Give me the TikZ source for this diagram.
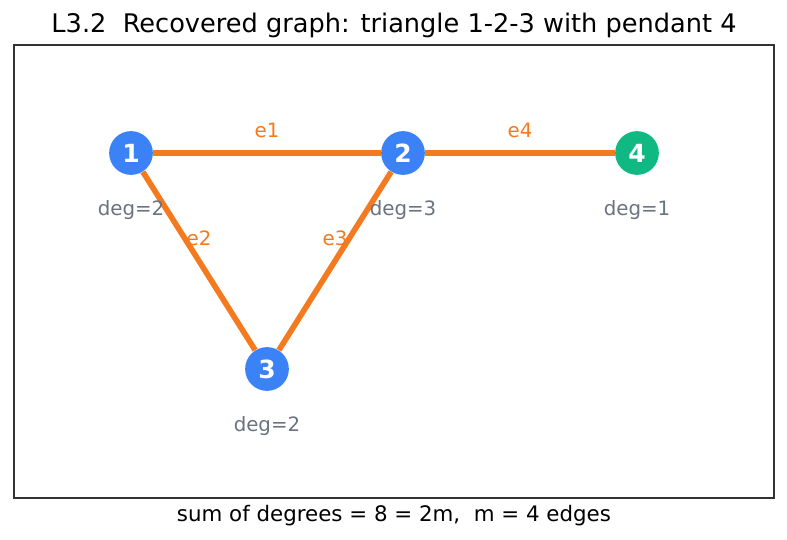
\documentclass[tikz,border=0pt]{standalone}
\usepackage{fontspec}
\setmainfont{DejaVu Sans}
\usepackage{tikz}
\usetikzlibrary{positioning, calc}
\definecolor{vblue}{HTML}{3B82F6}
\definecolor{vgreen}{HTML}{10B981}
\definecolor{eorange}{HTML}{F47A1F}
\definecolor{dgray}{HTML}{6B7280}
\tikzset{
    vert/.style={circle, fill=#1, text=white, font=\fontsize{12}{14}\selectfont\bfseries, minimum size=21pt, inner sep=0pt},
    edge/.style={draw=eorange, line width=2.7pt},
    elabel/.style={text=eorange, font=\fontsize{9.5}{11}\selectfont, yshift=11pt},
    deglabel/.style={text=dgray, font=\fontsize{9.5}{11}\selectfont, below=12pt of #1, inner sep=0pt}
}
\begin{document}
\begin{tikzpicture}[x=0.48pt, y=-0.48pt]
    % cadre et marges
    \useasboundingbox (0,0) rectangle (787,540);
    \draw[line width=0.6pt, black!80] (14,45) rectangle (774,498);
    % titre et légende
    \node (title) at (394,25) {\fontsize{12.3}{14}\selectfont L3.2\ \ Recovered graph: triangle 1-2-3 with pendant 4};
    \node (caption) at (394,516) {\fontsize{10.25}{12}\selectfont sum of degrees = 8 = 2m,\ \ m = 4 edges};
    % sommets
    \node[vert=vblue] (v1) at (131,153) {1};
    \node[vert=vblue] (v2) at (403,153) {2};
    \node[vert=vblue] (v3) at (267,369) {3};
    \node[vert=vgreen] (v4) at (637,153) {4};
    % arêtes
    \draw[edge] (v1) -- node[elabel] {e1} (v2);
    \draw[edge] (v1) -- node[elabel] {e2} (v3);
    \draw[edge] (v2) -- node[elabel] {e3} (v3);
    \draw[edge] (v2) -- node[elabel] {e4} (v4);
    % degrés
    \foreach \v/\d in {1/2, 2/3, 3/2, 4/1} {
        \node[deglabel=v\v] (deg\v) {deg=\d};
    }
\end{tikzpicture}
\end{document}
